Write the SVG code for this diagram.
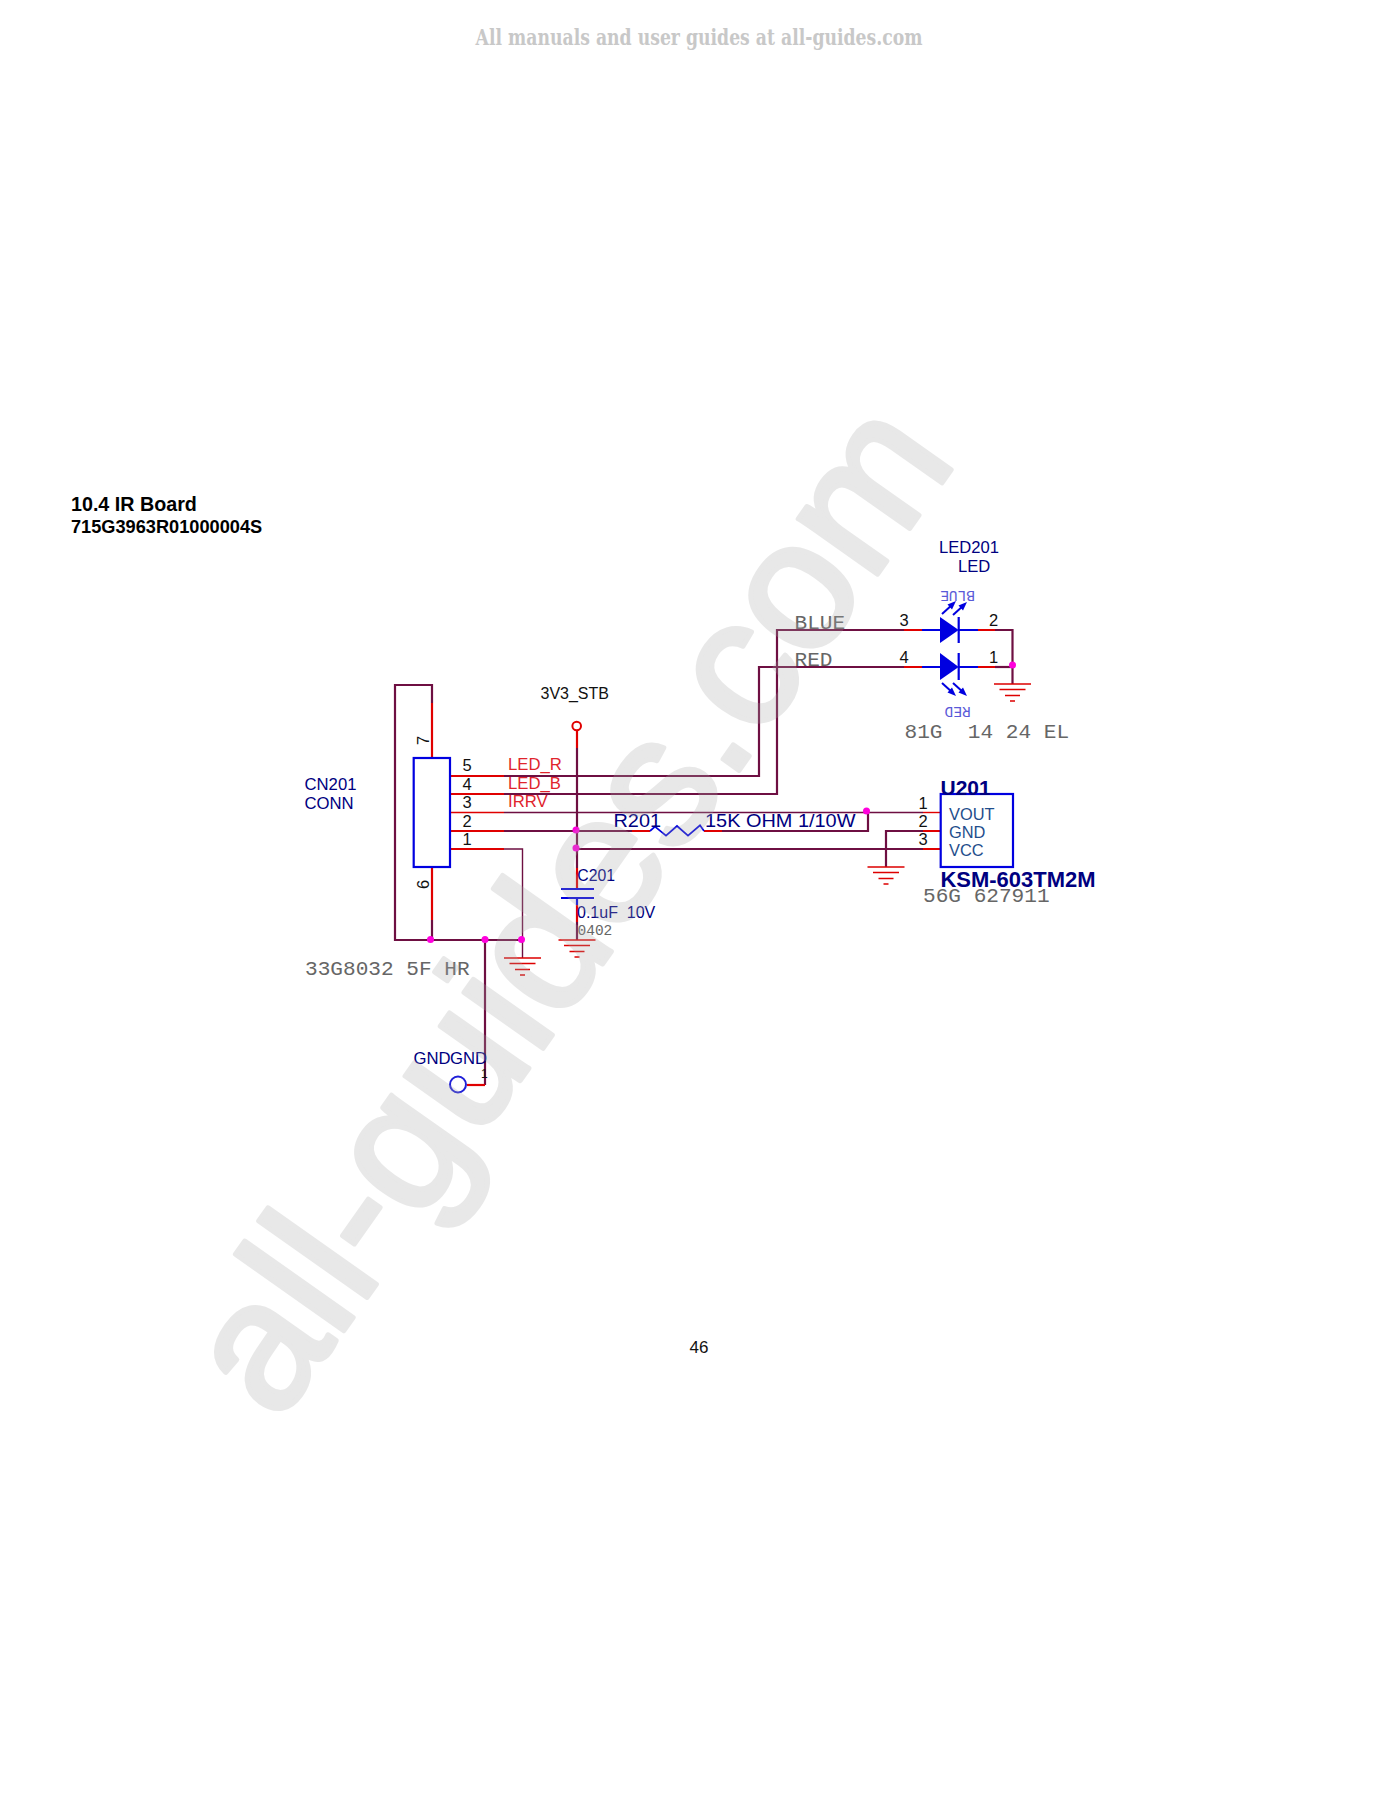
<svg xmlns="http://www.w3.org/2000/svg" width="1400" height="1817" viewBox="0 0 1400 1817">
<style>
text{font-family:"Liberation Sans",Arial,sans-serif;white-space:pre}
.mono{font-family:"Liberation Mono","Courier New",monospace;fill:#666;font-size:21.100px}
.navy{fill:#000080;font-size:16px}
.pin{fill:#111;font-size:16.500px}
.net{fill:#e0242c;font-size:16.700px}
.val{fill:#000080;font-size:18.600px}
.u{fill:#000080;font-weight:bold}
.part{fill:#1f4e8c;font-size:16.400px}
.led{font-family:"Liberation Mono",monospace;font-size:14.500px;fill:#5a5ad8}
.w{fill:none;stroke:#6e0f42;stroke-width:2.200}
.t{fill:none;stroke:#6e0f42;stroke-width:1.400}
.r{fill:none;stroke:#e00000;stroke-width:2.200}
.rt{fill:none;stroke:#e00000;stroke-width:1.400}
.b{fill:none;stroke:#0000e0;stroke-width:2.200}
.d{fill:#ff00dd}
.g{fill:none;stroke:#dd0000;stroke-width:1.700}
.tri{fill:#0000e0;stroke:none}
.wm{font-family:"Liberation Sans",Arial,sans-serif;font-size:183px;fill:#a8a8a8;stroke:#a8a8a8;stroke-width:5;stroke-linejoin:round;opacity:.26}
</style>
<defs>
<g id="gnd"><path class="g" d="M-18.500 0H18.500M-13 5.500H13M-7.500 11.500H7.500M-2.500 17H2.500"/></g>
<g id="arrU"><path d="M0 0L11 -10" stroke="#0000e0" stroke-width="2" fill="none"/><path class="tri" d="M14 -13L5.500 -9.500L10 -4.500Z"/></g>
<g id="arrD"><path d="M0 0L11 10" stroke="#0000e0" stroke-width="2" fill="none"/><path class="tri" d="M14 13L5.500 9.500L10 4.500Z"/></g>
</defs>
<rect width="1400" height="1817" fill="#fff"/>
<text x="475.500" y="44.500" font-weight="bold" font-size="22" fill="#c8c8c8" style="font-family:'DejaVu Serif',serif" textLength="447" lengthAdjust="spacingAndGlyphs">All manuals and user guides at all-guides.com</text>
<g id="title">
<text x="71" y="510.500" font-weight="bold" font-size="19.700" fill="#000">10.4 IR Board</text>
<text x="71" y="533" font-weight="bold" font-size="18.200" fill="#000">715G3963R01000004S</text>
</g>
<g id="connectors">
<path class="w" d="M432 703V685H395V940H522"/>
<path class="r" d="M432 758V703"/>
<path class="r" d="M432 867V920"/>
<path class="w" d="M432 920V940"/>
<path class="r" d="M450 776H504M450 794H504M450 831H504M450 849H504"/>
<path class="rt" d="M450 812.500H504"/>
<path class="w" d="M504 776H759V667H904"/>
<path class="r" d="M904 667H922M904 630H922"/>
<path class="w" d="M504 794H777V630H904"/>
<path class="t" d="M504 812.500H923"/>
<path class="rt" d="M923 812.500H940"/>
<path class="w" d="M504 831H632"/>
<path class="r" d="M632 831H650M704 831H722"/>
<path class="b" d="M650 831L655 826.700L666 835.700L677 826L688 835.700L700 825.300L704 831" style="stroke-width:1.700"/>
<path class="w" d="M722 831H868V812"/>
<path class="t" d="M504 849H522.500V958"/>
<path class="w" d="M577 849H923"/>
<path class="w" d="M923 831H886V867"/>
<path class="r" d="M923 849H940M923 831H940"/>
<path class="r" d="M577 731V748"/>
<path class="w" d="M577 748V868"/>
<path class="r" d="M577 868V889"/>
<path class="b" d="M561 889H594M561 898H594M577 898V905"/>
<path class="r" d="M577 905V922"/>
<path class="w" d="M577 922V940"/>
<path class="w" d="M485 940V1085"/>
<path class="r" d="M467 1085H485"/>
<path class="b" d="M922 630H940M922 667H940M958.700 630H978M958.700 667H978"/>
<path class="r" d="M978 630H995M978 667H995"/>
<path class="w" d="M995 630H1012.500V684"/>
<path class="w" d="M995 667H1012.500"/>
</g>
<g id="junctions">
<circle class="d" cx="576" cy="830" r="3.500"/>
<circle class="d" cx="576" cy="848" r="3.500"/>
<circle class="d" cx="430.500" cy="939.500" r="3.500"/>
<circle class="d" cx="485" cy="939.500" r="3.500"/>
<circle class="d" cx="521.500" cy="939.500" r="3.500"/>
<circle class="d" cx="866.500" cy="811" r="3.500"/>
<circle class="d" cx="1012.500" cy="665" r="3.500"/>
</g>
<g id="CN201">
<rect x="413.700" y="758" width="36.300" height="109" fill="none" stroke="#0000e0" stroke-width="2.200"/>
<text x="304.500" y="789.500" class="navy" style="font-size:16.700px">CN201</text>
<text x="304.500" y="808.500" class="navy" style="font-size:16.700px">CONN</text>
<text x="462.500" y="771.300" class="pin">5</text>
<text x="462.500" y="789.500" class="pin">4</text>
<text x="462.500" y="808" class="pin">3</text>
<text x="462.500" y="826.700" class="pin">2</text>
<text x="462.500" y="845" class="pin">1</text>
<text transform="translate(428.500 745) rotate(-90)" class="pin">7</text>
<text transform="translate(428.500 889) rotate(-90)" class="pin">6</text>
<text x="508" y="770" class="net">LED_R</text>
<text x="508" y="788.700" class="net">LED_B</text>
<text x="508" y="806.700" class="net">IRRV</text>
<text x="305" y="974.500" class="mono">33G8032 5F HR</text>
</g>
<g id="VCC">
<circle cx="576.700" cy="726" r="4.300" fill="#fff" stroke="#e00000" stroke-width="2"/>
<text x="540.500" y="699.300" fill="#111" font-size="16">3V3_STB</text>
</g>
<g id="C201">
<text x="577.300" y="881" class="navy" style="font-size:15.800px">C201</text>
<text x="577" y="917.700" class="navy">0.1uF  10V</text>
<text x="577.500" y="934.700" font-size="14.500" fill="#666" style="font-family:'Liberation Mono',monospace">0402</text>
<use href="#gnd" x="577" y="940"/>
</g>
<g id="GND1"><use href="#gnd" x="522.500" y="958"/></g>
<g id="R201">
<text x="613.500" y="826.700" class="val" textLength="47.500" lengthAdjust="spacingAndGlyphs">R201</text>
<text x="705" y="826.700" class="val" textLength="150.500" lengthAdjust="spacingAndGlyphs">15K OHM 1/10W</text>
</g>
<g id="U201">
<rect x="940.700" y="794" width="72.300" height="73" fill="none" stroke="#0000e0" stroke-width="2.200"/>
<text x="940.500" y="795" class="u" font-size="21">U201</text>
<text x="940.500" y="886.500" class="u" font-size="21.500" textLength="155" lengthAdjust="spacingAndGlyphs">KSM-603TM2M</text>
<text x="949" y="820" class="part">VOUT</text>
<text x="949" y="838" class="part">GND</text>
<text x="949" y="855.700" class="part">VCC</text>
<text x="918.500" y="809" class="pin">1</text>
<text x="918.500" y="826.700" class="pin">2</text>
<text x="918.500" y="844.700" class="pin">3</text>
<text x="923" y="902" class="mono">56G 627911</text>
<use href="#gnd" x="886" y="867"/>
</g>
<g id="LED201">
<text x="939" y="552.700" class="navy" style="font-size:16.600px">LED201</text>
<text x="958" y="571.700" class="navy" style="font-size:16.600px">LED</text>
<path class="tri" d="M940 617L958.700 630L940 643Z"/>
<path class="tri" d="M940 653L958.700 667L940 680Z"/>
<path class="b" d="M958.700 617V643M958.700 653V680"/>
<use href="#arrU" x="942" y="614"/>
<use href="#arrU" x="953" y="615"/>
<use href="#arrD" x="942" y="683"/>
<use href="#arrD" x="953" y="683"/>
<text transform="translate(975 590.700) rotate(180)" class="led">BLUE</text>
<text transform="translate(970.700 706.700) rotate(180)" class="led">RED</text>
<text x="899.500" y="626" class="pin">3</text>
<text x="989" y="626" class="pin">2</text>
<text x="899.500" y="663.300" class="pin">4</text>
<text x="989" y="663.300" class="pin">1</text>
<text x="794.500" y="629" class="mono">BLUE</text>
<text x="794.500" y="666" class="mono">RED</text>
<text x="904.500" y="737.500" class="mono">81G  14 24 EL</text>
<use href="#gnd" x="1012.500" y="684"/>
</g>
<g id="GND2">
<circle cx="458" cy="1084.500" r="8" fill="none" stroke="#2020d8" stroke-width="2"/>
<text x="413.500" y="1064" class="navy" style="font-size:16.700px">GND</text>
<text x="450" y="1064" class="navy" style="font-size:16.700px">GND</text>
<text x="481" y="1078" fill="#111" font-size="12">1</text>
</g>
<text id="page" x="689.500" y="1353" fill="#111" font-size="17">46</text>
<text class="wm" transform="translate(278 1424) rotate(-54.800)">all-guides.com</text>
</svg>
